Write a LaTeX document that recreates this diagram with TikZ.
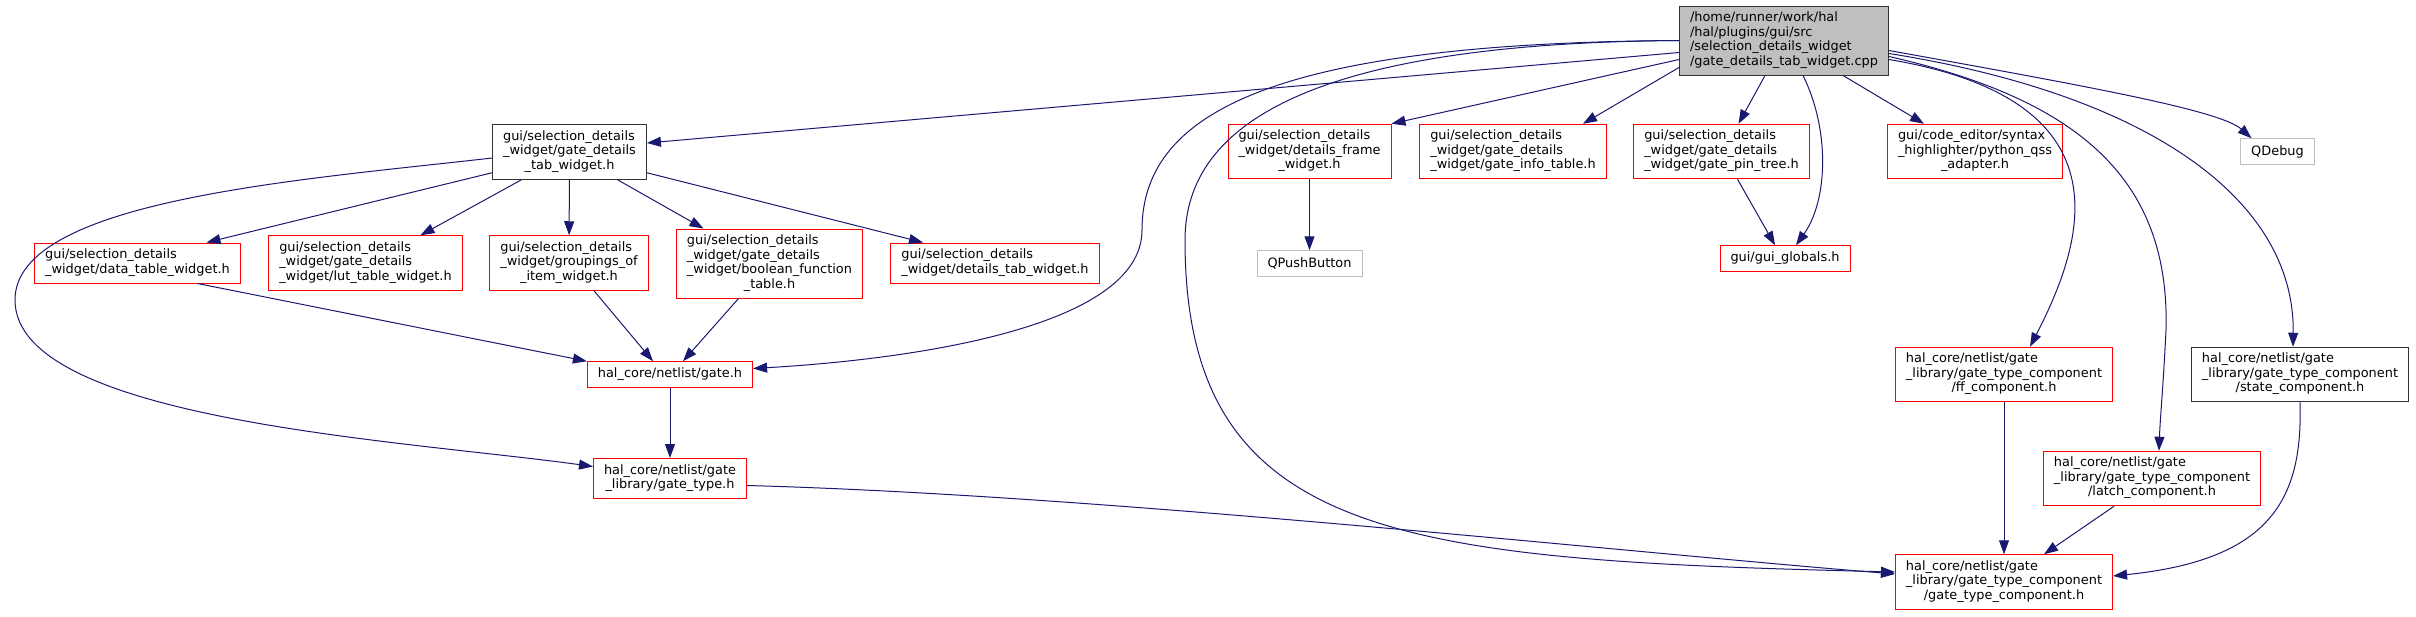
\documentclass[tikz,border=0pt]{standalone}
\usepackage{fontspec}
\setmainfont{DejaVu Sans}
\usetikzlibrary{arrows.meta}

\definecolor{edgeblue}{HTML}{191970}
\definecolor{rootgray}{HTML}{BFBFBF}
\newcommand{\lbl}[2]{\begin{tabular}{@{}l@{}}#1\\\multicolumn{1}{@{}c@{}}{#2}\end{tabular}}

\begin{document}
\begin{tikzpicture}[
      x=1pt, y=-1pt,
      font=\fontsize{12.9}{14.5}\selectfont,
      box/.style={draw=red, line width=1pt, fill=white, inner xsep=10.5pt,
                  inner ysep=5.5pt, minimum height=25.5pt},
      docbox/.style={box, draw=black!80},
      extbox/.style={box, draw=rootgray},
      rootbox/.style={box, draw=black!80, fill=rootgray},
      arr/.style={-{Triangle[length=14pt,width=10pt]}, edgeblue, line width=1pt}
    ]
    \useasboundingbox (0,0) rectangle (2416,616);

    \node[rootbox] (root) at (1784,40.5) {\lbl{/home/runner/work/hal\\/hal/plugins/gui/src\\/selection\_details\_widget}{/gate\_details\_tab\_widget.cpp}};
    \node[docbox] (twh) at (569.5,152) {\lbl{gui/selection\_details\\\_widget/gate\_details}{\_tab\_widget.h}};
    \node[box] (dtw) at (137.5,263) {\lbl{gui/selection\_details}{\_widget/data\_table\_widget.h}};
    \node[box] (lut) at (365.5,263) {\lbl{gui/selection\_details\\\_widget/gate\_details}{\_widget/lut\_table\_widget.h}};
    \node[box] (grp) at (569,263) {\lbl{gui/selection\_details\\\_widget/groupings\_of}{\_item\_widget.h}};
    \node[box] (bft) at (769.5,263.5) {\lbl{gui/selection\_details\\\_widget/gate\_details\\\_widget/boolean\_function}{\_table.h}};
    \node[box] (dtab) at (995,263) {\lbl{gui/selection\_details}{\_widget/details\_tab\_widget.h}};
    \node[box] (gate) at (670,374.5) {hal\_core/netlist/gate.h};
    \node[box] (gtype) at (670,478.5) {\lbl{hal\_core/netlist/gate}{\_library/gate\_type.h}};
    \node[box] (dfw) at (1309.5,151.5) {\lbl{gui/selection\_details\\\_widget/details\_frame}{\_widget.h}};
    \node[box] (gti) at (1513,151.5) {\lbl{gui/selection\_details\\\_widget/gate\_details}{\_widget/gate\_info\_table.h}};
    \node[box] (gpt) at (1721.5,151.5) {\lbl{gui/selection\_details\\\_widget/gate\_details}{\_widget/gate\_pin\_tree.h}};
    \node[box] (qss) at (1975,151.5) {\lbl{gui/code\_editor/syntax\\\_highlighter/python\_qss}{\_adapter.h}};
    \node[extbox] (qdbg) at (2277.5,151.5) {QDebug};
    \node[extbox] (qpb) at (1309.5,263.5) {QPushButton};
    \node[box] (glob) at (1785,258.5) {gui/gui\_globals.h};
    \node[box] (ff) at (2004,374.5) {\lbl{hal\_core/netlist/gate\\\_library/gate\_type\_component}{/ff\_component.h}};
    \node[docbox] (state) at (2300,374.5) {\lbl{hal\_core/netlist/gate\\\_library/gate\_type\_component}{/state\_component.h}};
    \node[box] (latch) at (2152,478.5) {\lbl{hal\_core/netlist/gate\\\_library/gate\_type\_component}{/latch\_component.h}};
    \node[box] (gtc) at (2004,582) {\lbl{hal\_core/netlist/gate\\\_library/gate\_type\_component}{/gate\_type\_component.h}};

    \draw[arr] ([yshift=-12pt]root.west) -- ([yshift=9pt]twh.east);
    \draw[arr] (root.west) .. controls (1280,43) and (1142,110) .. (1142,230)
               .. controls (1142,330) and (900,360) .. ([yshift=6pt]gate.east);
    \draw[arr] (root.west) .. controls (1320,43) and (1185,120) .. (1185,240)
               .. controls (1185,540) and (1400,560) .. ([yshift=10pt]gtc.west);
    \draw[arr] ([yshift=-19pt]root.west) -- (dfw.north east);
    \draw[arr] ([yshift=-27pt]root.west) -- ([xshift=70pt]gti.north);
    \draw[arr] ([xshift=-19pt]root.south) -- ([xshift=17pt]gpt.north);
    \draw[arr] ([xshift=19pt]root.south) .. controls (1830,130) and (1828,200) .. ([xshift=11pt]glob.north);
    \draw[arr] ([xshift=16pt]gpt.south) -- ([xshift=-10pt]glob.north);
    \draw[arr] ([xshift=59pt]root.south) -- ([xshift=-51pt]qss.north);
    \draw[arr] ([yshift=-10pt]root.east) .. controls (2080,85) and (2220,110) .. ([xshift=-26pt]qdbg.north);
    \draw[arr] ([yshift=-13pt]root.east) .. controls (2150,95) and (2295,200) .. ([xshift=-7pt]state.north);
    \draw[arr] ([yshift=-16pt]root.east) .. controls (2080,100) and (2170,180) .. (2166,330)
               .. controls (2163,390) and (2160,420) .. ([xshift=7pt]latch.north);
    \draw[arr] ([yshift=-19pt]root.east) .. controls (2130,100) and (2085,240) .. ([xshift=26pt]ff.north);

    \draw[arr] ([yshift=7pt]twh.south west) -- ([xshift=69pt]dtw.north);
    \draw[arr] ([xshift=-48pt]twh.south) -- ([xshift=55pt]lut.north);
    \draw[arr] (twh) -- (grp);
    \draw[arr] ([xshift=48pt]twh.south) -- ([xshift=-66pt]bft.north);
    \draw[arr] ([yshift=7pt]twh.south east) -- ([xshift=-72pt]dtab.north);
    \draw[arr] ([yshift=-6pt]twh.west) .. controls (300,180) and (15,200) .. (15,300)
               .. controls (15,420) and (400,440) .. ([yshift=12pt]gtype.west);

    \draw[arr] ([xshift=60pt]dtw.south) -- (gate.north west);
    \draw[arr] ([xshift=25pt]grp.south) -- ([xshift=-17pt]gate.north);
    \draw[arr] ([xshift=-31pt]bft.south) -- ([xshift=13pt]gate.north);
    \draw[arr] (gate) -- (gtype);
    \draw[arr] ([yshift=-7pt]gtype.east) .. controls (1100,495) and (1600,550) .. ([yshift=8pt]gtc.west);
    \draw[arr] (dfw) -- (qpb);
    \draw[arr] (ff) -- (gtc);
    \draw[arr] ([xshift=-38pt]latch.south) -- ([xshift=40pt]gtc.north);
    \draw[arr] (state.south) .. controls (2303,500) and (2270,560) .. ([yshift=6pt]gtc.east);
  \end{tikzpicture}
\end{document}
